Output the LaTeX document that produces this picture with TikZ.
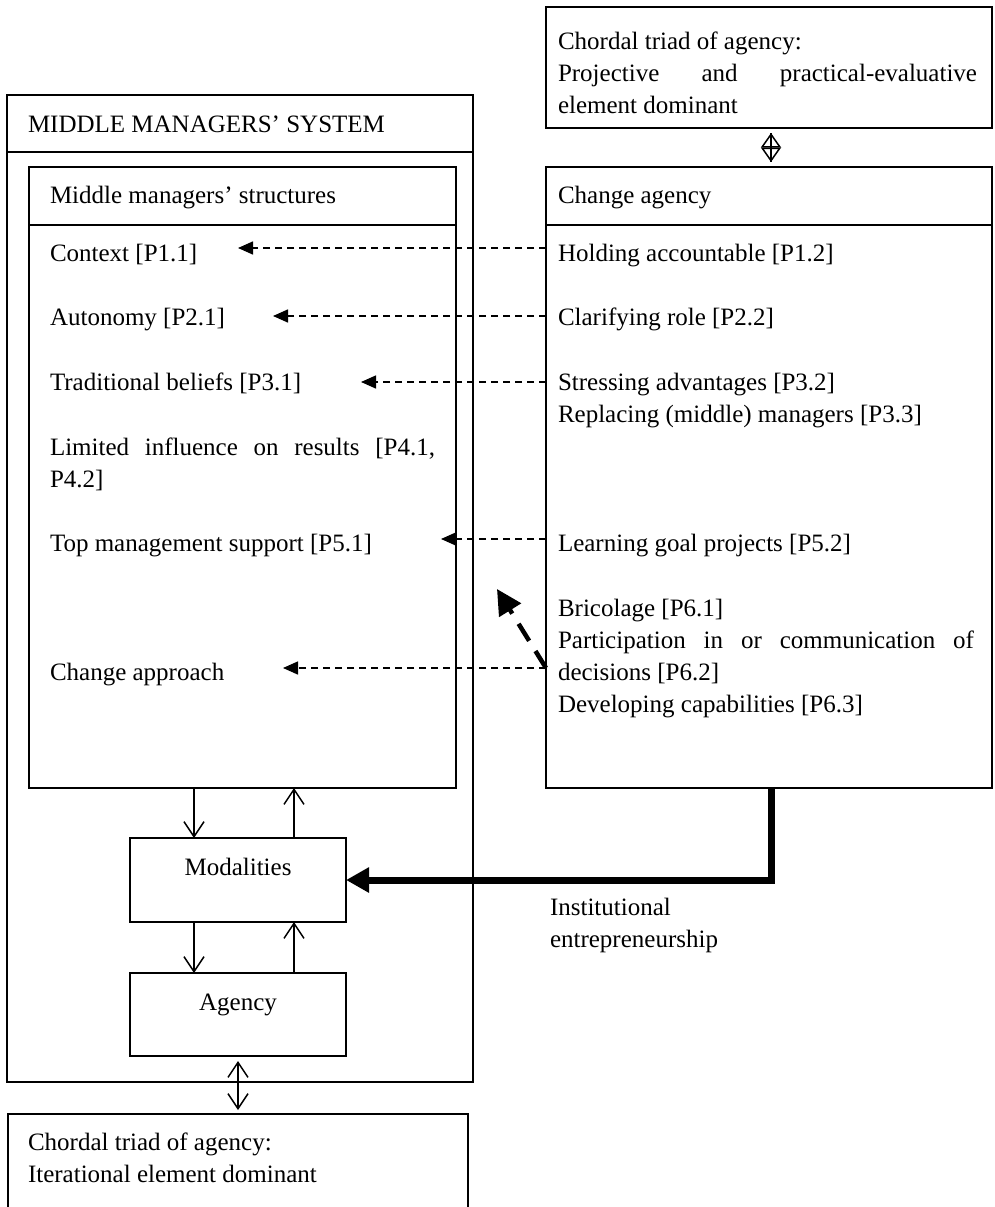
\documentclass[tikz,border=0pt]{standalone}
\usepackage{fontspec}
\setmainfont{Liberation Serif}
\usetikzlibrary{arrows.meta}
\begin{document}
\begin{tikzpicture}[x=1pt,y=-1pt,
  every node/.style={font=\fontsize{25}{32.3}\selectfont, inner sep=0pt, outer sep=0pt},
  frame/.style={draw, line width=2pt, anchor=north west},
  txt/.style={anchor=base west},
  para/.style={anchor=base west, text width=#1, align=justify},
  rule/.style={line width=2pt},
  flow/.style={line width=1.5pt, -{Straight Barb[length=15pt,width=20pt]}},
  flowboth/.style={line width=1.5pt, {Straight Barb[length=15pt,width=20pt]}-{Straight Barb[length=15pt,width=20pt]}},
  dasharrow/.style={line width=1.5pt, dash pattern=on 7pt off 5pt, -{Triangle[length=15pt,width=13pt]}},
  bigdash/.style={line width=4.5pt, dash pattern=on 20pt off 12pt, -{Triangle[length=25pt,width=25pt]}},
  heavy/.style={line width=7pt, -{Triangle[length=23pt,width=24pt]}},
  diamondtip/.style={line width=1.5pt, {Triangle[open,length=14.5pt,width=20pt]}-{Triangle[open,length=14.5pt,width=20pt]}}
]
\useasboundingbox (0,0) rectangle (994,1207);
\clip (0,0) rectangle (994,1207);

% frames
\node[frame, minimum width=466pt, minimum height=987pt] (sys) at (7,95) {};
\node[frame, minimum width=427pt, minimum height=621pt] (struct) at (29,167) {};
\node[frame, minimum width=446pt, minimum height=621pt] (chg) at (546,167) {};
\node[frame, minimum width=446pt, minimum height=121pt] (top) at (546,7) {};
\node[frame, minimum width=216pt, minimum height=84pt] (mod) at (130,838) {};
\node[frame, minimum width=216pt, minimum height=83pt] (agy) at (130,973) {};
\node[frame, minimum width=460pt, minimum height=120pt] (trd) at (8,1114) {};

% header rules
\draw[rule] (sys.west |- 0,152) -- (sys.east |- 0,152);
\draw[rule] (struct.west |- 0,225) -- (struct.east |- 0,225);
\draw[rule] (chg.west |- 0,225) -- (chg.east |- 0,225);

% headings
\node[txt] (systitle) at (28,132) {MIDDLE MANAGERS’ SYSTEM};
\node[txt] (sthead) at (50,203) {Middle managers’ structures};
\node[txt] (chhead) at (558,203) {Change agency};
\node[para=419pt] (toptxt) at (558,49) {Chordal triad of agency:\\ Projective and practical-evaluative\linebreak element dominant};
\node[para=430pt] (trdtxt) at (28,1150) {Chordal triad of agency:\\ Iterational element dominant};

% structures
\node[txt] (ctx) at (50,261) {Context [P1.1]};
\node[txt] (auto) at (50,325.5) {Autonomy [P2.1]};
\node[txt] (trad) at (50,390) {Traditional beliefs [P3.1]};
\node[para=385pt] (lim) at (50,455) {Limited influence on results [P4.1,\linebreak P4.2]};
\node[txt] (topm) at (50,551) {Top management support [P5.1]};
\node[txt] (capp) at (50,680) {Change approach};

% change agency
\node[txt] (hold) at (558,261) {Holding accountable [P1.2]};
\node[txt] (clar) at (558,325.5) {Clarifying role [P2.2]};
\node[para=416pt] (stress) at (558,390) {Stressing advantages [P3.2]\\ Replacing (middle) managers [P3.3]};
\node[txt] (learn) at (558,551) {Learning goal projects [P5.2]};
\node[para=416pt] (bric) at (558,616) {Bricolage [P6.1]\\ Participation in or communication of\linebreak decisions [P6.2]\\ Developing capabilities [P6.3]};

% modalities and agency labels
\node[anchor=base] (modtxt) at (238,875) {Modalities};
\node[anchor=base] (agytxt) at (238,1010) {Agency};
\node[para=250pt, align=left] (inst) at (550,915) {Institutional\\ entrepreneurship};

% dashed influence arrows
\coordinate (t1) at (238,248);
\coordinate (t2) at (273,316);
\coordinate (t3) at (361,382);
\coordinate (t5) at (441,539);
\coordinate (t6) at (283,668);
\coordinate (tb) at (497,589);
\draw[dasharrow] (chg.west |- t1) -- (t1);
\draw[dasharrow] (chg.west |- t2) -- (t2);
\draw[dasharrow] (chg.west |- t3) -- (t3);
\draw[dasharrow] (chg.west |- t5) -- (t5);
\draw[dasharrow] (chg.west |- t6) -- (t6);
\draw[bigdash] (chg.west |- t6) -- (tb);

% institutional entrepreneurship
\draw[heavy] ([xshift=2pt]chg.south) |- (mod.east);

% link between change agency and its chordal triad
\draw[diamondtip, shorten <=5pt, shorten >=5pt] ([xshift=2pt]top.south) -- ([xshift=2pt]chg.north);
\draw[line width=1.5pt, shorten <=5pt, shorten >=5pt] ([xshift=2pt]top.south) -- ([xshift=2pt]chg.north);

% duality of structure
\coordinate (d1) at ([xshift=-44pt]mod.north);
\coordinate (u1) at ([xshift=56pt]mod.north);
\coordinate (d2) at ([xshift=-44pt]agy.north);
\coordinate (u2) at ([xshift=56pt]agy.north);
\draw[flow] (struct.south -| d1) -- (d1);
\draw[flow] (u1) -- (struct.south -| u1);
\draw[flow] (mod.south -| d2) -- (d2);
\draw[flow] (u2) -- (mod.south -| u2);
\draw[flowboth, shorten <=5pt, shorten >=4pt] (agy.south) -- (trd.north);
\end{tikzpicture}
\end{document}
